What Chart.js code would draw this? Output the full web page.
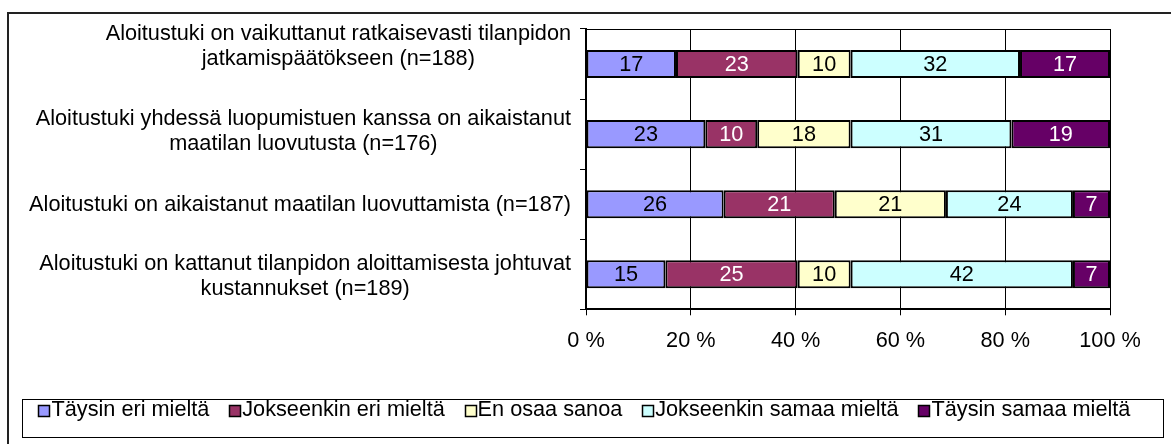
<!DOCTYPE html>
<html lang="fi">
<head>
<meta charset="UTF-8">
<title>Aloitustuki</title>
<script src="https://cdn.jsdelivr.net/npm/chart.js"></script>
<style>
  html, body { margin: 0; padding: 0; background: #fff; }
  #wrap { position: relative; width: 1171px; height: 444px; }
</style>
</head>
<body>
<div id="wrap"><canvas id="c" width="1171" height="444"></canvas></div>
<script>
// kategoriat (monirivinen teksti)
const categories = [
  ['Aloitustuki on vaikuttanut ratkaisevasti tilanpidon', 'jatkamispäätökseen (n=188)'],
  ['Aloitustuki yhdessä luopumistuen kanssa on aikaistanut', 'maatilan luovutusta (n=176)'],
  ['Aloitustuki on aikaistanut maatilan luovuttamista (n=187)'],
  ['Aloitustuki on kattanut tilanpidon aloittamisesta johtuvat', 'kustannukset (n=189)']
];
const seriesNames = ['Täysin eri mieltä', 'Jokseenkin eri mieltä', 'En osaa sanoa', 'Jokseenkin samaa mieltä', 'Täysin samaa mieltä'];
const taysinEri = [17, 23, 26, 15];
const jokseenkinEri = [23, 10, 21, 25];
const enOsaa = [10, 18, 21, 10];
const jokseenkinSamaa = [32, 31, 24, 42];
const taysinSamaa = [17, 19, 7, 7];
const xTicks = ['0 %', '20 %', '40 %', '60 %', '80 %', '100 %'];

const colors = ['#9999FF', '#993366', '#FFFFCC', '#CCFFFF', '#660066'];
const textColors = ['#000', '#fff', '#000', '#000', '#fff'];
const FONT = "'Liberation Sans', Arial, sans-serif";
const FS = 21.7;

const series = [taysinEri, jokseenkinEri, enOsaa, jokseenkinSamaa, taysinSamaa];
// 100 % pinottu: normalisoidaan rivisummaan
const totals = categories.map((_, i) => series.reduce((s, arr) => s + arr[i], 0));

const datasets = series.map((arr, k) => ({
  label: seriesNames[k],
  raw: arr,
  data: arr.map((v, i) => v / totals[i] * 100),
  backgroundColor: colors[k],
  borderColor: '#000',
  borderWidth: 2,
  borderSkipped: false,
  barPercentage: 0.4,
  categoryPercentage: 1
}));

// reunat, legendan laatikko ja plot-alueen yläreuna
const frame = {
  id: 'frame',
  beforeDraw(chart) {
    const ctx = chart.ctx;
    ctx.save();
    ctx.fillStyle = '#fff';
    ctx.fillRect(0, 0, chart.width, chart.height);
    ctx.strokeStyle = '#222';
    ctx.lineWidth = 2;
    ctx.strokeRect(8, 13, 1300, 600);
    ctx.lineWidth = 1;
    ctx.strokeStyle = '#000';
    ctx.strokeRect(22.5, 399.5, 1141, 38);
    ctx.restore();
  },
  afterDraw(chart) {
    const ctx = chart.ctx, a = chart.chartArea;
    ctx.save();
    ctx.strokeStyle = '#000';
    ctx.lineWidth = 1;
    ctx.beginPath();
    ctx.moveTo(a.left, a.top + 0.5);
    ctx.lineTo(a.right, a.top + 0.5);
    ctx.stroke();
    // legendan värilaatikot heti tekstin vasemmalle puolelle (Excel-tyyli)
    const lg = chart.legend;
    lg.legendHitBoxes.forEach((hb, k) => {
      const bx = Math.round(hb.left + FS / 2 - 13) + 0.5;
      const by = Math.round(hb.top + hb.height / 2 - 5.5) + 0.5;
      ctx.fillStyle = colors[k];
      ctx.fillRect(bx, by, 11, 11);
      ctx.lineWidth = 1.5;
      ctx.strokeRect(bx, by, 11, 11);
    });
    ctx.restore();
  }
};

// y-akselin tekstit: rivit keskitetty omaan lohkoonsa, lohko oikealle tasattu
// (Excel siirtää tekstejä hieman, siksi pieni pystysiirto riveittäin)
const labelShift = [-18, -3, 1, 2];
const catLabels = {
  id: 'catLabels',
  afterDraw(chart) {
    const ctx = chart.ctx, y = chart.scales.y;
    ctx.save();
    ctx.font = FS + 'px ' + FONT;
    ctx.fillStyle = '#000';
    ctx.textAlign = 'center';
    ctx.textBaseline = 'middle';
    const lh = 25;
    categories.forEach((lines, i) => {
      const w = Math.max(...lines.map(l => ctx.measureText(l).width));
      const cx = chart.chartArea.left - 15 - w / 2;
      const cy = y.getPixelForValue(i) + labelShift[i];
      const y0 = cy - (lines.length - 1) * lh / 2;
      lines.forEach((l, j) => ctx.fillText(l, cx, y0 + j * lh));
    });
    ctx.restore();
  }
};

// arvot palkkien sisään
const barValues = {
  id: 'barValues',
  afterDatasetsDraw(chart) {
    const ctx = chart.ctx;
    ctx.save();
    ctx.font = FS + 'px ' + FONT;
    ctx.textAlign = 'center';
    ctx.textBaseline = 'middle';
    chart.data.datasets.forEach((ds, k) => {
      ctx.fillStyle = textColors[k];
      chart.getDatasetMeta(k).data.forEach((bar, i) => {
        ctx.fillText(String(ds.raw[i]), (bar.x + bar.base) / 2, bar.y + 1);
      });
    });
    ctx.restore();
  }
};

new Chart(document.getElementById('c'), {
  type: 'bar',
  data: { labels: categories.map(l => l.join(' ')), datasets: datasets },
  options: {
    indexAxis: 'y',
    responsive: false,
    animation: false,
    layout: { padding: { left: 0, top: 29, right: 0, bottom: 13 } },
    scales: {
      x: {
        stacked: true,
        min: 0,
        max: 100,
        ticks: {
          stepSize: 20,
          color: '#000',
          font: { family: FONT, size: FS },
          padding: 13,
          callback: (v, i) => xTicks[i]
        },
        grid: { color: '#000', lineWidth: 1, tickLength: 6 },
        border: { color: '#000', width: 2 },
        afterFit(s) { s.height = 68; }
      },
      y: {
        stacked: true,
        ticks: { display: false },
        grid: { drawOnChartArea: false, color: '#000', tickLength: 6, offset: true },
        border: { color: '#000', width: 2 },
        afterFit(s) { s.width = 586; }
      },
      // tyhjä tila oikealla (100 % -tekstille), legenda pysyy koko leveydellä
      yRight: {
        type: 'category',
        position: 'right',
        ticks: { display: false },
        grid: { display: false },
        border: { display: false },
        afterFit(s) { s.width = 61; }
      }
    },
    plugins: {
      legend: {
        position: 'bottom',
        labels: {
          color: '#000',
          font: { family: FONT, size: FS },
          boxWidth: 0,
          boxHeight: 0,
          padding: 22,
          generateLabels(chart) {
            return chart.data.datasets.map((ds, k) => ({
              text: ds.label,
              fillStyle: 'rgba(0,0,0,0)',
              strokeStyle: 'rgba(0,0,0,0)',
              lineWidth: 0,
              datasetIndex: k
            }));
          }
        }
      },
      tooltip: { enabled: false }
    }
  },
  plugins: [frame, catLabels, barValues]
});
</script>
</body>
</html>
